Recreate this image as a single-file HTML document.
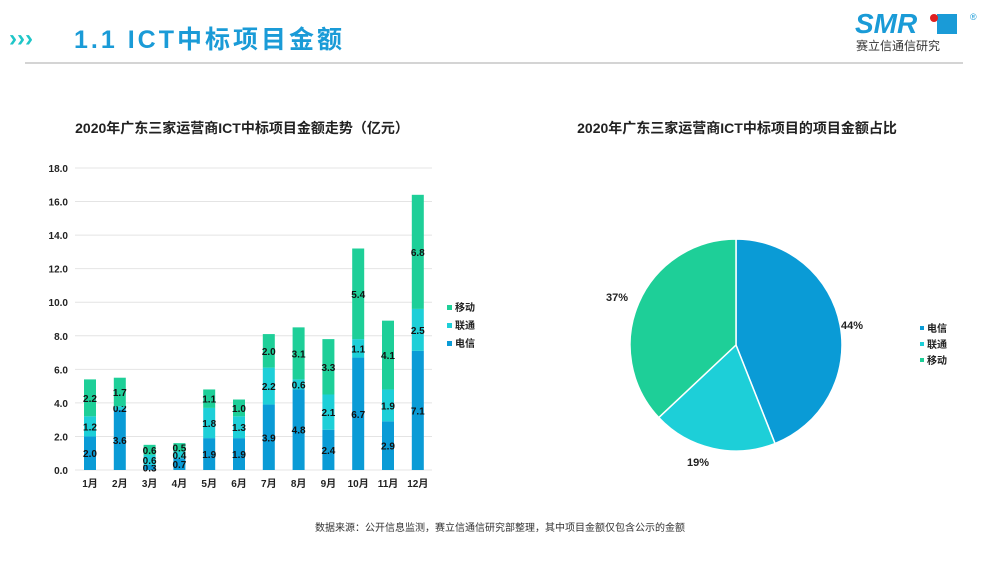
<!DOCTYPE html>
<html><head><meta charset="utf-8"><style>
body{margin:0;width:1000px;height:563px;background:#fff;overflow:hidden;font-family:"Liberation Sans","Noto Sans CJK SC",sans-serif}
</style></head><body>
<svg id="s" width="1000" height="563" xmlns="http://www.w3.org/2000/svg" font-family="Liberation Sans, Noto Sans CJK SC, sans-serif">
<text x="9" y="46" font-size="24" fill="#1fc6c8" font-weight="bold">›››</text>
<text x="74" y="48" font-size="25" fill="#1a9bd7" font-weight="bold" letter-spacing="3">1.1 ICT中标项目金额</text>
<line x1="25" y1="63" x2="963" y2="63" stroke="#aaa" stroke-width="1"/>
<text x="855" y="33" font-size="28" font-weight="bold" fill="#1a9bd7" font-style="italic">SMR</text>
<rect x="937" y="14" width="20" height="20" fill="#1a9bd7"/>
<circle cx="934" cy="18" r="4" fill="#e02020"/>
<text x="970" y="20" font-size="9" fill="#1a9bd7">®</text>
<text x="856" y="50" font-size="12" fill="#333">赛立信通信研究</text>
<text x="242" y="133" font-size="14" font-weight="bold" fill="#222" text-anchor="middle">2020年广东三家运营商ICT中标项目金额走势（亿元）</text>
<text x="737" y="133" font-size="14" font-weight="bold" fill="#222" text-anchor="middle">2020年广东三家运营商ICT中标项目的项目金额占比</text>
<text x="500" y="531" font-size="10" fill="#333" text-anchor="middle">数据来源：公开信息监测，赛立信通信研究部整理，其中项目金额仅包含公示的金额</text>
<g id="bars"></g>
<g id="pie"></g>
</svg>
<script>
var g=document.getElementById('bars'),h='';
var c=['#0a9bd6','#1dcfd8','#1ecf98'];
for(var i=0;i<=9;i++){var y=470-i*2*16.78;h+='<line x1="75" x2="432" y1="'+y+'" y2="'+y+'" stroke="#e4e4e4"/>';h+='<text x="68" y="'+(y+4)+'" font-size="10" font-weight="bold" text-anchor="end" fill="#222">'+(i*2).toFixed(1)+'</text>';}
var d=[[2.0,1.2,2.2],[3.6,0.2,1.7],[0.3,0.6,0.6],[0.7,0.4,0.5],[1.9,1.8,1.1],[1.9,1.3,1.0],[3.9,2.2,2.0],[4.8,0.6,3.1],[2.4,2.1,3.3],[6.7,1.1,5.4],[2.9,1.9,4.1],[7.1,2.5,6.8]];
for(var m=0;m<12;m++){var cx=90+m*29.8,b=0;
for(var k=0;k<3;k++){var v=d[m][k],y0=470-b*16.78,y1=470-(b+v)*16.78;
h+='<rect x="'+(cx-6)+'" y="'+y1+'" width="12" height="'+(y0-y1)+'" fill="'+c[k]+'"/>';
h+='<text x="'+cx+'" y="'+((y0+y1)/2+4)+'" font-size="10" font-weight="bold" text-anchor="middle" fill="#111">'+v.toFixed(1)+'</text>';b+=v;}
h+='<text x="'+cx+'" y="487" font-size="10" font-weight="bold" text-anchor="middle" fill="#222">'+(m+1)+'月</text>';}
var L=['移动','联通','电信'],lc=[c[2],c[1],c[0]];
for(var j=0;j<3;j++){h+='<rect x="447" y="'+(305+j*18)+'" width="5" height="5" fill="'+lc[j]+'"/><text x="455" y="'+(311+j*18)+'" font-size="10" font-weight="bold" fill="#222">'+L[j]+'</text>';}
g.innerHTML=h;
var p='',cx=736,cy=345,r=106,a=0,vals=[0.44,0.19,0.37];
function pt(t){return [cx+r*Math.sin(t*2*Math.PI),cy-r*Math.cos(t*2*Math.PI)];}
for(var k=0;k<3;k++){var s=pt(a),e=pt(a+vals[k]);p+='<path d="M'+cx+' '+cy+'L'+s[0]+' '+s[1]+'A'+r+' '+r+' 0 0 1 '+e[0]+' '+e[1]+'Z" fill="'+c[k]+'" stroke="#fff" stroke-width="1.5"/>';a+=vals[k];}
p+='<text x="852" y="329" font-size="11" font-weight="bold" text-anchor="middle" fill="#222">44%</text>';
p+='<text x="698" y="466" font-size="11" font-weight="bold" text-anchor="middle" fill="#222">19%</text>';
p+='<text x="617" y="301" font-size="11" font-weight="bold" text-anchor="middle" fill="#222">37%</text>';
var PL=['电信','联通','移动'];
for(var j=0;j<3;j++){p+='<rect x="920" y="'+(326+j*16)+'" width="4" height="4" fill="'+c[j]+'"/><text x="927" y="'+(332+j*16)+'" font-size="10" font-weight="bold" fill="#222">'+PL[j]+'</text>';}
document.getElementById('pie').innerHTML=p;
</script>
</body></html>
